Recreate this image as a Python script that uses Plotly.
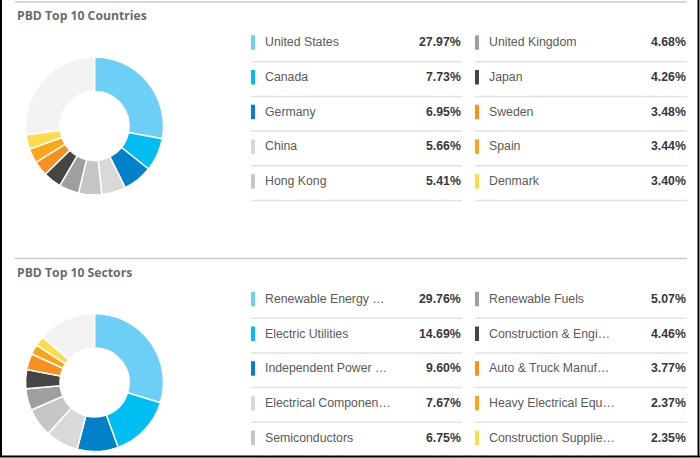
import plotly.graph_objects as go

# data
country_names = ["United States", "Canada", "Germany", "China", "Hong Kong",
                 "United Kingdom", "Japan", "Sweden", "Spain", "Denmark"]
country_pct = [27.97, 7.73, 6.95, 5.66, 5.41, 4.68, 4.26, 3.48, 3.44, 3.40]

sector_names = ["Renewable Energy \u2026", "Electric Utilities", "Independent Power \u2026",
                "Electrical Componen\u2026", "Semiconductors", "Renewable Fuels",
                "Construction & Engi\u2026", "Auto & Truck Manuf\u2026",
                "Heavy Electrical Equ\u2026", "Construction Supplie\u2026"]
sector_pct = [29.76, 14.69, 9.60, 7.67, 6.75, 5.07, 4.46, 3.77, 2.37, 2.35]

colors = ["#6dcff6", "#00bdf2", "#0081c9", "#d9d9d9", "#c6c6c6",
          "#9f9f9f", "#454545", "#f7901e", "#fba61a", "#ffdb4d"]
other_color = "#f3f3f3"

W, H = 700, 458


def px(x):
    return x / W


def py(y):
    return 1 - y / H


fig = go.Figure()
shapes = []
annos = []


def add_block(names, pct, title, top, donut_cy):
    # donut, remaining share drawn as light grey "other" slice
    rest = round(100 - sum(pct), 2)
    r = 69
    cx = 94.5
    fig.add_trace(go.Pie(
        values=pct + [rest], labels=names + ["Other"],
        sort=False, direction="clockwise", rotation=0, hole=0.5,
        marker=dict(colors=colors + [other_color], line=dict(color="white", width=1.5)),
        textinfo="none", hoverinfo="label+percent", showlegend=False,
        domain=dict(x=[px(cx - r), px(cx + r)], y=[py(donut_cy + r), py(donut_cy - r)])))

    annos.append(dict(x=px(15), y=py(top + 13.5), xref="paper", yref="paper",
                      text="<b>" + title + "</b>", showarrow=False, xanchor="left",
                      yanchor="middle", font=dict(family="Open Sans", size=12.2, color="#6b6b6b")))

    row0 = top + 40.3
    step = 34.7
    cols = [(251, 462), (475, 687)]
    for i, (nm, v) in enumerate(zip(names, pct)):
        c, rw = divmod(i, 5)
        x0, x1 = cols[c]
        yc = row0 + rw * step
        shapes.append(dict(type="rect", xref="paper", yref="paper",
                           x0=px(x0), x1=px(x0 + 4), y0=py(yc + 7.5), y1=py(yc - 7),
                           fillcolor=colors[i], line=dict(width=0)))
        annos.append(dict(x=px(x0 + 12), y=py(yc), xref="paper", yref="paper", text=nm,
                          showarrow=False, xanchor="left", yanchor="middle",
                          font=dict(family="Liberation Sans", size=12.3, color="#5a5a5a")))
        annos.append(dict(x=px(x1 + 1), y=py(yc), xref="paper", yref="paper",
                          text="<b>%.2f%%</b>" % v, showarrow=False, xanchor="right",
                          yanchor="middle",
                          font=dict(family="Liberation Sans", size=12.3, color="#383838")))
        yd = yc + 19.4
        shapes.append(dict(type="line", xref="paper", yref="paper",
                           x0=px(x0), x1=px(x1), y0=py(yd), y1=py(yd),
                           line=dict(color="#e2e2e2", width=1.5)))


add_block(country_names, country_pct, "PBD Top 10 Countries", 2, 126)
add_block(sector_names, sector_pct, "PBD Top 10 Sectors", 258.5, 382.5)

# section dividers
for yy in [2, 258.5]:
    shapes.append(dict(type="line", xref="paper", yref="paper", x0=px(15), x1=px(687),
                       y0=py(yy), y1=py(yy), line=dict(color="#c9c9c9", width=1.5)))

# outer frame (left, right, bottom)
for x0, y0, x1, y1 in [(1, 0, 1, 457), (698.5, 0, 698.5, 457), (0, 456.5, 700, 456.5)]:
    shapes.append(dict(type="line", xref="paper", yref="paper", x0=px(x0), x1=px(x1),
                       y0=py(y0), y1=py(y1), line=dict(color="black", width=2)))

fig.update_layout(width=W, height=H, margin=dict(l=0, r=0, t=0, b=0),
                  paper_bgcolor="white", plot_bgcolor="white",
                  shapes=shapes, annotations=annos)

# page has a default 8px body margin; drop it so the figure fills the window
fig.write_html("out.html", config={"displayModeBar": False},
               post_script="document.body.style.margin='0';")
